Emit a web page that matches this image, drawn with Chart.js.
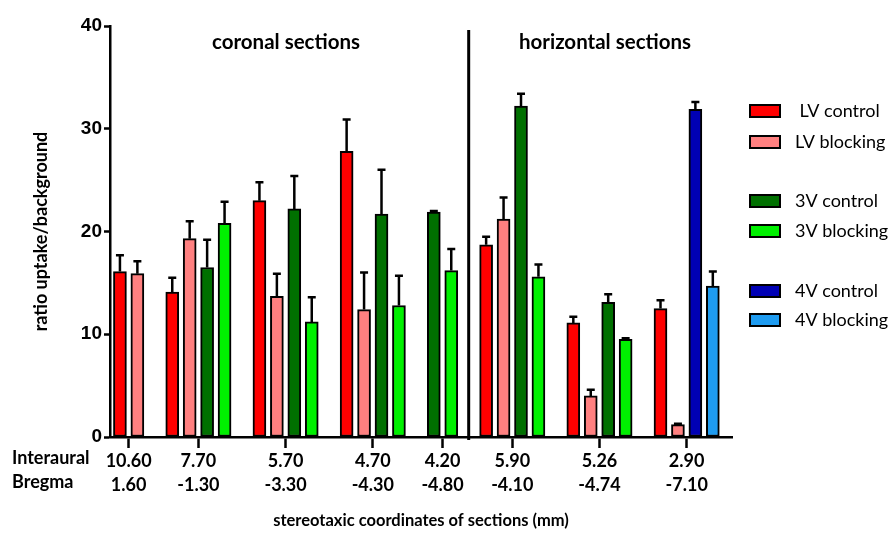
<!DOCTYPE html>
<html>
<head>
<meta charset="utf-8">
<script src="https://cdn.jsdelivr.net/npm/chart.js@4/dist/chart.umd.min.js"></script>
<style>
  html, body { margin: 0; padding: 0; background: #fff; }
  #wrap { width: 889px; height: 534px; position: relative; }
</style>
</head>
<body>
<div id="wrap"><canvas id="c"></canvas></div>
<script>
// ---- Data ----
const interaural = ['10.60', '7.70', '5.70', '4.70', '4.20', '5.90', '5.26', '2.90'];
const bregma     = ['1.60', '-1.30', '-3.30', '-4.30', '-4.80', '-4.10', '-4.74', '-7.10'];
const rowLabels  = ['Interaural', 'Bregma'];
const sectionLabels = ['coronal sections', 'horizontal sections'];

const seriesNames = ['LV control', 'LV blocking', '3V control', '3V blocking', '4V control', '4V blocking'];

const lvControl      = [16.1, 14.1, 23.0, 27.8, null, 18.7, 11.1, 12.5];
const lvControlErr   = [1.6, 1.4, 1.8, 3.1, null, 0.8, 0.6, 0.8];
const lvBlocking     = [15.9, 19.3, 13.7, 12.4, null, 21.2, 4.0, 1.2];
const lvBlockingErr  = [1.2, 1.7, 2.2, 3.6, null, 2.1, 0.6, 0.1];
const v3Control      = [null, 16.5, 22.2, 21.7, 21.9, 32.2, 13.1, null];
const v3ControlErr   = [null, 2.7, 3.2, 4.3, 0.1, 1.2, 0.8, null];
const v3Blocking     = [null, 20.8, 11.2, 12.8, 16.2, 15.6, 9.5, null];
const v3BlockingErr  = [null, 2.1, 2.4, 2.9, 2.1, 1.2, 0.1, null];
const v4Control      = [null, null, null, null, null, null, null, 31.9];
const v4ControlErr   = [null, null, null, null, null, null, null, 0.7];
const v4Blocking     = [null, null, null, null, null, null, null, 14.7];
const v4BlockingErr  = [null, null, null, null, null, null, null, 1.4];

const yTicks = [0, 10, 20, 30, 40];

// ---- Styles ----
const colors = ['#ff0000', '#ff8080', '#007000', '#00f000', '#0000b4', '#1e9bf0'];
const allValues = [lvControl, lvBlocking, v3Control, v3Blocking, v4Control, v4Blocking];
const allErrors = [lvControlErr, lvBlockingErr, v3ControlErr, v3BlockingErr, v4ControlErr, v4BlockingErr];

// Bars of a group sit side by side; groups separated by one empty slot.
const slotOf = allValues.map(() => []);
const groupCenters = [];
let slot = 0;
for (let g = 0; g < interaural.length; g++) {
  const start = slot;
  for (let s = 0; s < allValues.length; s++) {
    if (allValues[s][g] !== null) { slotOf[s][g] = slot; slot++; }
  }
  groupCenters.push((start + slot - 1) / 2);
  slot++; // gap
}
const dividerSlot = groupCenters[4] + 1.5; // empty slot between coronal and horizontal sections

const datasets = allValues.map((vals, s) => {
  const pts = [], errs = [];
  vals.forEach((v, g) => {
    if (v !== null) { pts.push({ x: slotOf[s][g], y: v }); errs.push(allErrors[s][g]); }
  });
  return {
    label: seriesNames[s],
    data: pts,
    errors: errs,
    backgroundColor: colors[s],
    borderColor: '#000',
    borderWidth: 2,
    borderSkipped: false,
    barThickness: 13,
    grouped: false
  };
});

const LATO = 'Lato, "Open Sans", sans-serif';

const extras = {
  id: 'extras',
  afterDatasetsDraw(chart) {
    const ctx = chart.ctx, y = chart.scales.y;
    ctx.save();
    ctx.strokeStyle = '#000';
    ctx.lineWidth = 2.5;
    chart.data.datasets.forEach((ds, i) => {
      const meta = chart.getDatasetMeta(i);
      meta.data.forEach((bar, j) => {
        const err = ds.errors[j];
        if (err == null) return;
        const top = y.getPixelForValue(ds.data[j].y + err);
        ctx.beginPath();
        ctx.moveTo(bar.x, bar.y);
        ctx.lineTo(bar.x, top);
        ctx.moveTo(bar.x - 4, top);
        ctx.lineTo(bar.x + 4, top);
        ctx.stroke();
      });
    });
    ctx.restore();
  },
  afterDraw(chart) {
    const ctx = chart.ctx, x = chart.scales.x, a = chart.chartArea;
    ctx.save();
    // divider between coronal and horizontal sections
    const dx = x.getPixelForValue(dividerSlot);
    ctx.strokeStyle = '#000';
    ctx.lineWidth = 3;
    ctx.beginPath();
    ctx.moveTo(dx, 30);
    ctx.lineTo(dx, a.bottom + 3);
    ctx.stroke();

    // section headings
    ctx.fillStyle = '#000';
    ctx.font = 'bold 20.5px ' + LATO;
    ctx.textAlign = 'center';
    ctx.textBaseline = 'middle';
    ctx.fillText(sectionLabels[0], 286, 42);
    ctx.fillText(sectionLabels[1], 605, 42);

    // row labels
    ctx.font = 'bold 18px ' + LATO;
    ctx.textAlign = 'left';
    ctx.fillText(rowLabels[0], 12, 458);
    ctx.fillText(rowLabels[1], 12, 482);

    // legend
    const rows = [111, 142, 201, 231, 291, 320];
    ctx.font = '18px ' + LATO;
    seriesNames.forEach((n, i) => {
      ctx.fillStyle = colors[i];
      ctx.fillRect(750, rows[i] - 6, 30, 12);
      ctx.strokeStyle = '#000';
      ctx.lineWidth = 2;
      ctx.strokeRect(750, rows[i] - 6, 30, 12);
      ctx.fillStyle = '#000';
      ctx.fillText((i === 0 ? ' ' : '') + n, 795, rows[i]);
    });
    ctx.restore();
  }
};

new Chart(document.getElementById('c'), {
  type: 'bar',
  data: { datasets },
  plugins: [extras],
  options: {
    responsive: true,
    maintainAspectRatio: false,
    animation: false,
    layout: { padding: { top: 26, right: 157, bottom: 0, left: 0 } },
    plugins: { legend: { display: false }, tooltip: { enabled: false } },
    scales: {
      x: {
        type: 'linear',
        min: -0.57,
        max: 35.1,
        offset: false,
        afterFit(scale) { scale.height = 97; },
        afterBuildTicks(scale) { scale.ticks = groupCenters.map(v => ({ value: v })); },
        grid: { display: true, drawOnChartArea: false, drawTicks: true, tickLength: 11, tickWidth: 2.5, tickColor: '#000', offset: false },
        border: { display: true, color: '#000', width: 2.5 },
        ticks: {
          autoSkip: false, maxRotation: 0, padding: 1, color: '#000',
          font: { family: LATO, size: 18, weight: 'bold', lineHeight: 1.33 },
          callback: (v, i) => [interaural[i], bregma[i]]
        },
        title: {
          display: true, text: 'stereotaxic coordinates of sections (mm)', color: '#000',
          font: { family: LATO, size: 16.5, weight: 'bold' },
          padding: { top: 0, bottom: 3 }
        }
      },
      y: {
        min: 0, max: 40,
        afterFit(scale) { scale.width = 110; },
        afterBuildTicks(scale) { scale.ticks = yTicks.map(v => ({ value: v })); },
        grid: { display: true, drawOnChartArea: false, drawTicks: true, tickLength: 6, tickWidth: 2.5, tickColor: '#000' },
        border: { display: true, color: '#000', width: 2.5 },
        ticks: {
          padding: 2, color: '#000',
          font: { family: '"Liberation Sans", Arial, sans-serif', size: 19, weight: 'bold' }
        },
        title: {
          display: true, text: 'ratio uptake/background', color: '#000',
          font: { family: LATO, size: 18, weight: 'bold' },
          padding: { top: 30, bottom: 0 }
        }
      }
    }
  }
});
</script>
</body>
</html>
